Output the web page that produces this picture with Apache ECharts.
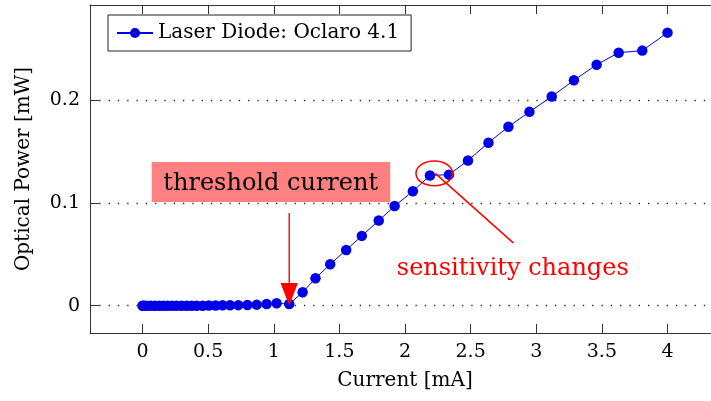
<!DOCTYPE html>
<html>
<head>
<meta charset="utf-8">
<script src="https://cdn.jsdelivr.net/npm/echarts@6/dist/echarts.min.js"></script>
<style>
  html, body { margin: 0; padding: 0; background: #ffffff; overflow: hidden; }
  #chart { width: 711px; height: 401px; }
</style>
</head>
<body>
<div id="chart"></div>
<script>
// Laser diode L-I curve: drive current vs optical output power
const currentMA = [
  0, 0.012, 0.032, 0.062, 0.095, 0.128, 0.158, 0.192, 0.227, 0.26,
  0.298, 0.336, 0.374, 0.413, 0.458, 0.506, 0.557, 0.61, 0.667, 0.73,
  0.799, 0.87, 0.946, 1.022, 1.118,
  1.22, 1.318, 1.43, 1.552, 1.671, 1.8, 1.921, 2.06, 2.19, 2.335,
  2.48, 2.636, 2.788, 2.948, 3.118, 3.287, 3.46, 3.628, 3.808, 4.0
];
const powerMW = [
  0, 0, 0, 0, 0, 0, 0, 0, 0, 0,
  0, 0, 0, 0, 0, 0.0001, 0.0002, 0.0003, 0.0004, 0.0005,
  0.0007, 0.001, 0.0016, 0.0023, 0.0016,
  0.013, 0.0267, 0.0403, 0.0542, 0.0679, 0.0828, 0.097, 0.1113, 0.1267, 0.1275,
  0.1413, 0.1586, 0.1742, 0.1886, 0.2035, 0.2193, 0.2345, 0.2462, 0.2482, 0.2657
];
const xTickValues = [0, 0.5, 1, 1.5, 2, 2.5, 3, 3.5, 4];
const yTickValues = [0, 0.1, 0.2];
const seriesName = 'Laser Diode: Oclaro 4.1';

// Annotation anchors, in data units
const thresholdPoint = [1.118, 0.0016];
const sensitivityPoint = [2.223, 0.1287];

const FONT = 'DejaVu Serif';
const FRAME = '#333333';
const BLUE = '#0000e6';
const RED = '#ff0000';

const chart = echarts.init(document.getElementById('chart'), null, { renderer: 'canvas' });

const xRange = { min: -0.4, max: 4.4 };
const yRange = { min: -0.0266, max: 0.2926 };

const tickStyle = { show: true, inside: true, length: 9, lineStyle: { color: FRAME, width: 1 } };

chart.setOption({
  animation: false,
  backgroundColor: '#ffffff',
  // plot frame runs slightly past the right edge of the canvas
  grid: { left: 90, top: 5, width: 630, height: 328, containLabel: false, outerBoundsMode: 'none' },
  legend: {
    data: [seriesName],
    left: 108, top: 15,
    padding: [8, 12, 8, 8],
    itemWidth: 36, itemHeight: 12.5,
    borderColor: '#222222', borderWidth: 1,
    backgroundColor: '#ffffff',
    textStyle: { fontFamily: FONT, fontSize: 20, color: '#000000' }
  },
  xAxis: [
    {
      type: 'value', position: 'bottom', ...xRange,
      name: 'Current [mA]', nameLocation: 'middle', nameGap: 38,
      nameTextStyle: { fontFamily: FONT, fontSize: 20, color: '#000000' },
      axisLine: { show: true, onZero: false, lineStyle: { color: FRAME, width: 1 } },
      axisTick: { ...tickStyle, customValues: xTickValues },
      axisLabel: { customValues: xTickValues, margin: 10, fontFamily: FONT, fontSize: 19, color: '#000000',
                   formatter: v => String(v) },
      splitLine: { show: false }
    },
    {
      type: 'value', position: 'top', ...xRange,
      axisLine: { show: true, onZero: false, lineStyle: { color: FRAME, width: 1 } },
      axisTick: { ...tickStyle, customValues: xTickValues },
      axisLabel: { show: false },
      splitLine: { show: false }
    }
  ],
  yAxis: {
    type: 'value', position: 'left', ...yRange,
    name: 'Optical Power [mW]', nameLocation: 'middle', nameGap: 56,
    nameTextStyle: { fontFamily: FONT, fontSize: 20, color: '#000000' },
    axisLine: { show: true, onZero: false, lineStyle: { color: FRAME, width: 1 } },
    axisTick: { ...tickStyle, customValues: yTickValues },
    axisLabel: { customValues: yTickValues, margin: 10, fontFamily: FONT, fontSize: 19, color: '#000000',
                 formatter: v => String(v) },
    splitLine: { show: true, lineStyle: { color: '#222222', width: 1.3, type: [1.3, 8] } }
  },
  series: [{
    name: seriesName,
    type: 'line',
    xAxisIndex: 0,
    data: currentMA.map((c, i) => [c, powerMW[i]]),
    symbol: 'circle',
    symbolSize: 10.5,
    showSymbol: true,
    lineStyle: { color: BLUE, width: 1 },
    itemStyle: { color: BLUE },
    z: 3
  }]
});

// Annotations placed from data coordinates
const tp = chart.convertToPixel({ gridIndex: 0 }, thresholdPoint);
const sp = chart.convertToPixel({ gridIndex: 0 }, sensitivityPoint);

chart.setOption({
  graphic: [
    {
      type: 'rect', z: 10,
      shape: { x: tp[0] - 137.5, y: 162, width: 238.5, height: 40 },
      style: { fill: '#ff8080' }
    },
    {
      type: 'text', z: 11,
      x: tp[0] - 18.5, y: 184,
      style: { text: 'threshold current', fontFamily: FONT, fontSize: 24, fill: '#000000',
               align: 'center', verticalAlign: 'middle' }
    },
    {
      type: 'line', z: 11,
      shape: { x1: tp[0], y1: 213, x2: tp[0], y2: 285 },
      style: { stroke: RED, lineWidth: 1.4 }
    },
    {
      type: 'polygon', z: 11,
      shape: { points: [[tp[0] - 8.7, 283], [tp[0] + 8.7, 283], [tp[0], tp[1] + 1.5]] },
      style: { fill: RED }
    },
    {
      type: 'ellipse', z: 11,
      shape: { cx: sp[0], cy: sp[1], rx: 18.3, ry: 12.3 },
      style: { fill: 'none', stroke: RED, lineWidth: 1.5 }
    },
    {
      type: 'line', z: 11,
      shape: { x1: sp[0] + 1, y1: sp[1], x2: sp[0] + 79, y2: sp[1] + 69.5 },
      style: { stroke: RED, lineWidth: 1.5 }
    },
    {
      type: 'text', z: 11,
      x: sp[0] + 78.5, y: 268.5,
      style: { text: 'sensitivity changes', fontFamily: FONT, fontSize: 24, fill: RED,
               align: 'center', verticalAlign: 'middle' }
    }
  ]
});
</script>
</body>
</html>
